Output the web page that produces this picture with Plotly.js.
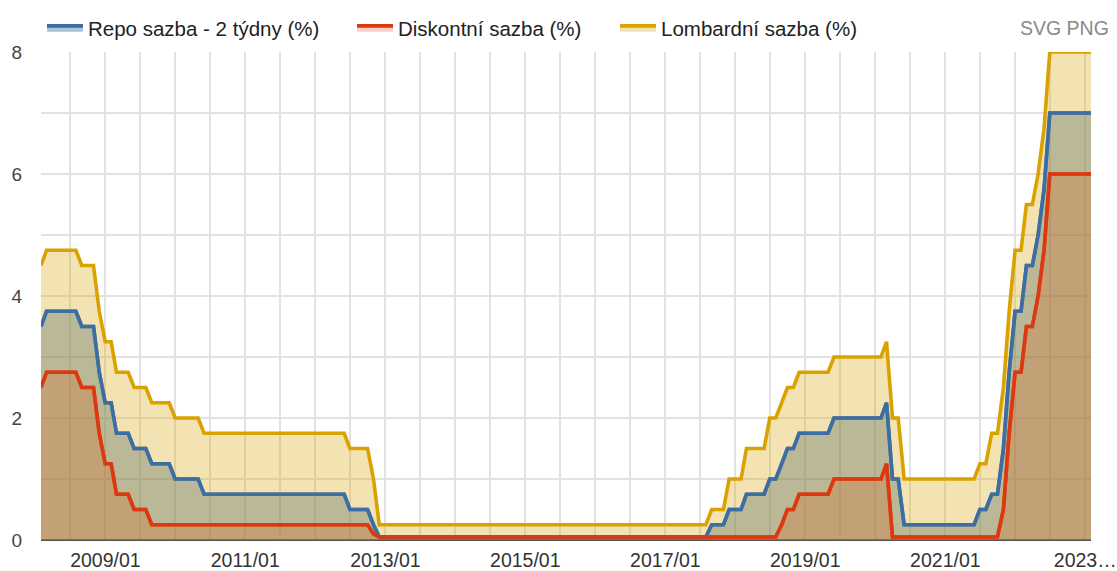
<!DOCTYPE html>
<html>
<head>
<meta charset="utf-8">
<script src="https://cdn.plot.ly/plotly-3.0.1.min.js"></script>
<style>
  html, body { margin: 0; padding: 0; background: #fff; }
  #chart { width: 1117px; height: 571px; }
</style>
</head>
<body>
<div id="chart"></div>
<script>
// End-of-month observation dates (2008/01 .. 2023/01)
const months = [
  "2008-01-31","2008-02-29","2008-03-31","2008-04-30","2008-05-31","2008-06-30","2008-07-31","2008-08-31","2008-09-30","2008-10-31","2008-11-30","2008-12-31",
  "2009-01-31","2009-02-28","2009-03-31","2009-04-30","2009-05-31","2009-06-30","2009-07-31","2009-08-31","2009-09-30","2009-10-31","2009-11-30","2009-12-31",
  "2010-01-31","2010-02-28","2010-03-31","2010-04-30","2010-05-31","2010-06-30","2010-07-31","2010-08-31","2010-09-30","2010-10-31","2010-11-30","2010-12-31",
  "2011-01-31","2011-02-28","2011-03-31","2011-04-30","2011-05-31","2011-06-30","2011-07-31","2011-08-31","2011-09-30","2011-10-31","2011-11-30","2011-12-31",
  "2012-01-31","2012-02-29","2012-03-31","2012-04-30","2012-05-31","2012-06-30","2012-07-31","2012-08-31","2012-09-30","2012-10-31","2012-11-30","2012-12-31",
  "2013-01-31","2013-02-28","2013-03-31","2013-04-30","2013-05-31","2013-06-30","2013-07-31","2013-08-31","2013-09-30","2013-10-31","2013-11-30","2013-12-31",
  "2014-01-31","2014-02-28","2014-03-31","2014-04-30","2014-05-31","2014-06-30","2014-07-31","2014-08-31","2014-09-30","2014-10-31","2014-11-30","2014-12-31",
  "2015-01-31","2015-02-28","2015-03-31","2015-04-30","2015-05-31","2015-06-30","2015-07-31","2015-08-31","2015-09-30","2015-10-31","2015-11-30","2015-12-31",
  "2016-01-31","2016-02-29","2016-03-31","2016-04-30","2016-05-31","2016-06-30","2016-07-31","2016-08-31","2016-09-30","2016-10-31","2016-11-30","2016-12-31",
  "2017-01-31","2017-02-28","2017-03-31","2017-04-30","2017-05-31","2017-06-30","2017-07-31","2017-08-31","2017-09-30","2017-10-31","2017-11-30","2017-12-31",
  "2018-01-31","2018-02-28","2018-03-31","2018-04-30","2018-05-31","2018-06-30","2018-07-31","2018-08-31","2018-09-30","2018-10-31","2018-11-30","2018-12-31",
  "2019-01-31","2019-02-28","2019-03-31","2019-04-30","2019-05-31","2019-06-30","2019-07-31","2019-08-31","2019-09-30","2019-10-31","2019-11-30","2019-12-31",
  "2020-01-31","2020-02-29","2020-03-31","2020-04-30","2020-05-31","2020-06-30","2020-07-31","2020-08-31","2020-09-30","2020-10-31","2020-11-30","2020-12-31",
  "2021-01-31","2021-02-28","2021-03-31","2021-04-30","2021-05-31","2021-06-30","2021-07-31","2021-08-31","2021-09-30","2021-10-31","2021-11-30","2021-12-31",
  "2022-01-31","2022-02-28","2022-03-31","2022-04-30","2022-05-31","2022-06-30","2022-07-31","2022-08-31","2022-09-30","2022-10-31","2022-11-30","2022-12-31",
  "2023-01-31"
];

// Repo sazba - 2 týdny (%)
const repo = [
  3.50,3.75,3.75,3.75,3.75,3.75,3.75,3.50,3.50,3.50,2.75,2.25,
  2.25,1.75,1.75,1.75,1.50,1.50,1.50,1.25,1.25,1.25,1.25,1.00,
  1.00,1.00,1.00,1.00,0.75,0.75,0.75,0.75,0.75,0.75,0.75,0.75,
  0.75,0.75,0.75,0.75,0.75,0.75,0.75,0.75,0.75,0.75,0.75,0.75,
  0.75,0.75,0.75,0.75,0.75,0.50,0.50,0.50,0.50,0.25,0.05,0.05,
  0.05,0.05,0.05,0.05,0.05,0.05,0.05,0.05,0.05,0.05,0.05,0.05,
  0.05,0.05,0.05,0.05,0.05,0.05,0.05,0.05,0.05,0.05,0.05,0.05,
  0.05,0.05,0.05,0.05,0.05,0.05,0.05,0.05,0.05,0.05,0.05,0.05,
  0.05,0.05,0.05,0.05,0.05,0.05,0.05,0.05,0.05,0.05,0.05,0.05,
  0.05,0.05,0.05,0.05,0.05,0.05,0.05,0.25,0.25,0.25,0.50,0.50,
  0.50,0.75,0.75,0.75,0.75,1.00,1.00,1.25,1.50,1.50,1.75,1.75,
  1.75,1.75,1.75,1.75,2.00,2.00,2.00,2.00,2.00,2.00,2.00,2.00,
  2.00,2.25,1.00,1.00,0.25,0.25,0.25,0.25,0.25,0.25,0.25,0.25,
  0.25,0.25,0.25,0.25,0.25,0.50,0.50,0.75,0.75,1.50,2.75,3.75,
  3.75,4.50,4.50,5.00,5.75,7.00,7.00,7.00,7.00,7.00,7.00,7.00,
  7.00
];

// Diskontní sazba (%)
const discount = [
  2.50,2.75,2.75,2.75,2.75,2.75,2.75,2.50,2.50,2.50,1.75,1.25,
  1.25,0.75,0.75,0.75,0.50,0.50,0.50,0.25,0.25,0.25,0.25,0.25,
  0.25,0.25,0.25,0.25,0.25,0.25,0.25,0.25,0.25,0.25,0.25,0.25,
  0.25,0.25,0.25,0.25,0.25,0.25,0.25,0.25,0.25,0.25,0.25,0.25,
  0.25,0.25,0.25,0.25,0.25,0.25,0.25,0.25,0.25,0.10,0.05,0.05,
  0.05,0.05,0.05,0.05,0.05,0.05,0.05,0.05,0.05,0.05,0.05,0.05,
  0.05,0.05,0.05,0.05,0.05,0.05,0.05,0.05,0.05,0.05,0.05,0.05,
  0.05,0.05,0.05,0.05,0.05,0.05,0.05,0.05,0.05,0.05,0.05,0.05,
  0.05,0.05,0.05,0.05,0.05,0.05,0.05,0.05,0.05,0.05,0.05,0.05,
  0.05,0.05,0.05,0.05,0.05,0.05,0.05,0.05,0.05,0.05,0.05,0.05,
  0.05,0.05,0.05,0.05,0.05,0.05,0.05,0.25,0.50,0.50,0.75,0.75,
  0.75,0.75,0.75,0.75,1.00,1.00,1.00,1.00,1.00,1.00,1.00,1.00,
  1.00,1.25,0.05,0.05,0.05,0.05,0.05,0.05,0.05,0.05,0.05,0.05,
  0.05,0.05,0.05,0.05,0.05,0.05,0.05,0.05,0.05,0.50,1.75,2.75,
  2.75,3.50,3.50,4.00,4.75,6.00,6.00,6.00,6.00,6.00,6.00,6.00,
  6.00
];

// Lombardní sazba (%)
const lombard = [
  4.50,4.75,4.75,4.75,4.75,4.75,4.75,4.50,4.50,4.50,3.75,3.25,
  3.25,2.75,2.75,2.75,2.50,2.50,2.50,2.25,2.25,2.25,2.25,2.00,
  2.00,2.00,2.00,2.00,1.75,1.75,1.75,1.75,1.75,1.75,1.75,1.75,
  1.75,1.75,1.75,1.75,1.75,1.75,1.75,1.75,1.75,1.75,1.75,1.75,
  1.75,1.75,1.75,1.75,1.75,1.50,1.50,1.50,1.50,1.00,0.25,0.25,
  0.25,0.25,0.25,0.25,0.25,0.25,0.25,0.25,0.25,0.25,0.25,0.25,
  0.25,0.25,0.25,0.25,0.25,0.25,0.25,0.25,0.25,0.25,0.25,0.25,
  0.25,0.25,0.25,0.25,0.25,0.25,0.25,0.25,0.25,0.25,0.25,0.25,
  0.25,0.25,0.25,0.25,0.25,0.25,0.25,0.25,0.25,0.25,0.25,0.25,
  0.25,0.25,0.25,0.25,0.25,0.25,0.25,0.50,0.50,0.50,1.00,1.00,
  1.00,1.50,1.50,1.50,1.50,2.00,2.00,2.25,2.50,2.50,2.75,2.75,
  2.75,2.75,2.75,2.75,3.00,3.00,3.00,3.00,3.00,3.00,3.00,3.00,
  3.00,3.25,2.00,2.00,1.00,1.00,1.00,1.00,1.00,1.00,1.00,1.00,
  1.00,1.00,1.00,1.00,1.00,1.25,1.25,1.75,1.75,2.50,3.75,4.75,
  4.75,5.50,5.50,6.00,6.75,8.00,8.00,8.00,8.00,8.00,8.00,8.00,
  8.00
];

const seriesNames = ["Repo sazba - 2 týdny (%)", "Diskontní sazba (%)", "Lombardní sazba (%)"];
const xTickVals = ["2009-01-01","2011-01-01","2013-01-01","2015-01-01","2017-01-01","2019-01-01","2021-01-01","2023-01-01"];
const xTickText = ["2009/01","2011/01","2013/01","2015/01","2017/01","2019/01","2021/01","2023\u2026"];
const yTickVals = [0, 2, 4, 6, 8];

const FONT = "Liberation Sans, Arial, sans-serif";
const blue = "rgb(58,110,165)";
const red = "rgb(220,57,18)";
const gold = "rgb(218,162,0)";

function area(y, name, color, fill, legendId) {
  return {
    type: "scatter", mode: "lines", x: months, y: y, name: name,
    line: { color: color, width: 3.6 },
    fill: "tozeroy", fillcolor: fill,
    legend: legendId, hoverinfo: "skip"
  };
}
function lineOnly(y, color) {
  return {
    type: "scatter", mode: "lines", x: months, y: y,
    line: { color: color, width: 3.6 },
    showlegend: false, hoverinfo: "skip"
  };
}

const traces = [
  area(repo, seriesNames[0], blue, "rgba(58,110,165,0.42)", "legend"),
  area(discount, seriesNames[1], red, "rgba(220,57,18,0.24)", "legend2"),
  area(lombard, seriesNames[2], gold, "rgba(218,162,0,0.3)", "legend3"),
  lineOnly(repo, blue),
  lineOnly(discount, red)
];

function legendAt(px) {
  return {
    x: px / 1117, xref: "container", xanchor: "left",
    y: 1 - 28 / 571, yref: "container", yanchor: "middle",
    orientation: "h", bgcolor: "rgba(0,0,0,0)", borderwidth: 0,
    font: { family: FONT, size: 20.5, color: "#222" },
    itemwidth: 36, tracegroupgap: 0
  };
}

const layout = {
  width: 1117, height: 571,
  margin: { l: 41, r: 26, t: 52, b: 31, pad: 0 },
  paper_bgcolor: "#fff", plot_bgcolor: "#fff",
  font: { family: FONT, color: "#444" },
  showlegend: true,
  legend: legendAt(42),
  legend2: legendAt(352),
  legend3: legendAt(615),
  xaxis: {
    type: "date",
    range: ["2008-01-31", "2023-01-31"],
    tickmode: "array", tickvals: xTickVals, ticktext: xTickText,
    showgrid: true, gridcolor: "#e2e2e2", gridwidth: 2,
    minor: { tick0: "2008-07-01", dtick: "M6", showgrid: true, gridcolor: "#e2e2e2", gridwidth: 2 },
    zeroline: false, showline: false,
    ticks: "outside", ticklen: 3, tickcolor: "rgba(0,0,0,0)",
    tickfont: { family: FONT, size: 19.5, color: "#333" },
    fixedrange: true
  },
  yaxis: {
    range: [0, 8],
    tickmode: "array", tickvals: yTickVals,
    showgrid: true, gridcolor: "#e2e2e2", gridwidth: 2,
    minor: { dtick: 1, showgrid: true, gridcolor: "#e2e2e2", gridwidth: 2 },
    zeroline: true, zerolinecolor: "#555", zerolinewidth: 2,
    showline: false,
    ticks: "outside", ticklen: 14, tickcolor: "rgba(0,0,0,0)",
    tickfont: { family: FONT, size: 19, color: "#444" },
    fixedrange: true
  },
  annotations: [{
    text: "SVG PNG", xref: "paper", yref: "paper",
    x: (1111 - 41) / 1050, xanchor: "right", y: (540 - 28) / 488, yanchor: "middle",
    showarrow: false, font: { family: FONT, size: 19.5, color: "#8a8a8a" }
  }]
};

Plotly.newPlot("chart", traces, layout, { displayModeBar: false, responsive: false });
</script>
</body>
</html>
